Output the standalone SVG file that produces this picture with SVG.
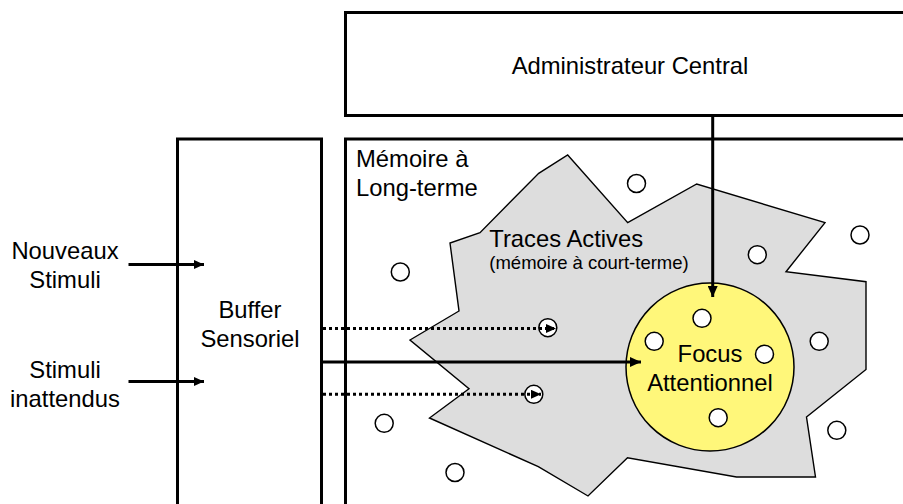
<svg xmlns="http://www.w3.org/2000/svg" width="903" height="504" viewBox="0 0 903 504">
<defs>
<style>
.box{fill:#fff;stroke:#000;stroke-width:3}
.t{font-family:"Liberation Sans",Arial,sans-serif;font-size:23.8px;fill:#000}
.ts{font-family:"Liberation Sans",Arial,sans-serif;font-size:18.5px;fill:#000}
.c{text-anchor:middle}
.dot{fill:#fff;stroke:#000;stroke-width:1.5}
.conn{fill:none;stroke:#000;stroke-width:3}
.dotted{fill:none;stroke:#000;stroke-width:3;stroke-dasharray:3 3}
</style>
<marker id="ah" markerUnits="userSpaceOnUse" markerWidth="11" markerHeight="10" refX="11" refY="5" orient="auto">
<path d="M0,0 L11,5 L0,10 z" fill="#000"/>
</marker>
<marker id="ahs" markerUnits="userSpaceOnUse" markerWidth="10" markerHeight="9" refX="10" refY="4.5" orient="auto">
<path d="M0,0 L10,4.5 L0,9 z" fill="#000"/>
</marker>
</defs>
<rect width="903" height="504" fill="#fff"/>
<g id="admin">
<rect class="box" x="345.5" y="12.5" width="570" height="103"/>
<text class="t c" x="630" y="73.5">Administrateur Central</text>
</g>
<g id="buffer">
<rect class="box" x="177.5" y="139" width="144" height="400"/>
<text class="t c" x="250" y="318">Buffer</text>
<text class="t c" x="250" y="347">Sensoriel</text>
</g>
<g id="memoire">
<rect class="box" x="345.5" y="139" width="600" height="400"/>
<text class="t" x="356" y="167">Mémoire à</text>
<text class="t" x="356" y="196">Long-terme</text>
</g>
<g id="traces">
<polygon points="567.7,155 627.7,222.7 696.7,184 825,222.7 786,271.7 866,281.7 866,369.5 806.5,417 815.5,477 736.5,477 627.5,457.7 588,496 538.3,466.7 429.5,418 469,388.7 410,340 459,311 450,243 480,232.7 538.7,173.3" fill="#dddddd" stroke="#000" stroke-width="1.4" stroke-linejoin="miter"/>
<text class="t" x="489.3" y="246.7">Traces Actives</text>
<text class="ts" x="489.3" y="268.5">(mémoire à court-terme)</text>
</g>
<g id="focus">
<circle cx="710" cy="367" r="84" fill="#fff77a" stroke="#000" stroke-width="1.5"/>
<text class="t c" x="710" y="361.7">Focus</text>
<text class="t c" x="710" y="390.7">Attentionnel</text>
</g>
<g id="traces-memoire">
<circle class="dot" cx="636.5" cy="183.5" r="9"/>
<circle class="dot" cx="860" cy="235" r="9"/>
<circle class="dot" cx="757.3" cy="254.7" r="9"/>
<circle class="dot" cx="400.3" cy="272" r="9"/>
<circle class="dot" cx="702" cy="318.3" r="9"/>
<circle class="dot" cx="654.2" cy="341.3" r="9"/>
<circle class="dot" cx="764.5" cy="354.2" r="9"/>
<circle class="dot" cx="819.2" cy="341.3" r="9"/>
<circle class="dot" cx="718.2" cy="417.7" r="9"/>
<circle class="dot" cx="836.8" cy="430.3" r="9"/>
<circle class="dot" cx="384.2" cy="423.3" r="9"/>
<circle class="dot" cx="455" cy="472.5" r="9"/>
<circle class="dot" cx="547.8" cy="327.7" r="9"/>
<circle class="dot" cx="533.8" cy="394.3" r="9"/>
</g>
<g id="stimuli-labels">
<text class="t c" x="65" y="259">Nouveaux</text>
<text class="t c" x="65" y="288">Stimuli</text>
<text class="t c" x="65" y="378">Stimuli</text>
<text class="t c" x="65" y="407">inattendus</text>
</g>
<g id="connectors">
<line class="conn" x1="712.7" y1="115" x2="712.7" y2="297" marker-end="url(#ah)"/>
<line class="conn" x1="321.5" y1="362" x2="641" y2="362" marker-end="url(#ah)"/>
<line class="dotted" x1="323" y1="328.5" x2="556" y2="328.5" marker-end="url(#ahs)"/>
<line class="dotted" x1="323" y1="394.3" x2="541" y2="394.3" marker-end="url(#ahs)"/>
<line class="conn" x1="128.5" y1="264.5" x2="204" y2="264.5" marker-end="url(#ahs)"/>
<line class="conn" x1="128.5" y1="381.5" x2="204" y2="381.5" marker-end="url(#ahs)"/>
</g>
</svg>
